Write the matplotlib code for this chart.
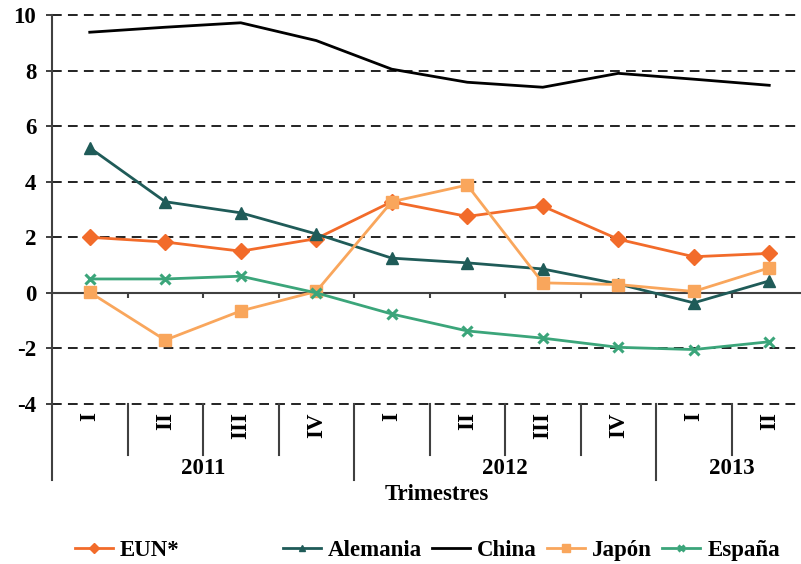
import matplotlib
matplotlib.use("Agg")
import matplotlib.pyplot as plt
import numpy as np

plt.rcParams['font.family'] = ['Liberation Serif', 'DejaVu Serif']
plt.rcParams['font.weight'] = 'bold'

quarters = ["I", "II", "III", "IV", "I", "II", "III", "IV", "I", "II"]
years = ["2011", "2012", "2013"]
quarters_per_year = [4, 4, 2]

eun = [2.0, 1.83, 1.5, 1.95, 3.28, 2.75, 3.12, 1.93, 1.3, 1.42]
alemania = [5.22, 3.28, 2.88, 2.12, 1.25, 1.08, 0.86, 0.32, -0.36, 0.43]
china = [9.38, 9.56, 9.72, 9.08, 8.05, 7.58, 7.4, 7.9, 7.69, 7.47]
japon = [0.02, -1.7, -0.65, 0.05, 3.28, 3.88, 0.36, 0.3, 0.05, 0.9]
espana = [0.5, 0.5, 0.6, 0.0, -0.76, -1.37, -1.63, -1.96, -2.04, -1.76]

C_EUN = "#F26B2A"
C_ALE = "#1F5B58"
C_CHI = "#000000"
C_JAP = "#F9A65C"
C_ESP = "#3BA57A"

FS = 16.5

W, H = 801, 564
fig = plt.figure(figsize=(W / 100, H / 100), dpi=100)
left_px, right_px, top_px, bot_px = 52, 807, 15, 404
ax = fig.add_axes([left_px / W, 1 - bot_px / H, (right_px - left_px) / W, (bot_px - top_px) / H])

n = len(quarters)
x = np.arange(n) + 0.5
ax.set_xlim(0, n)
ax.set_ylim(-4, 10)

# dashed horizontal gridlines (the zero line is drawn solid below)
for yv in [10, 8, 6, 4, 2, -2, -4]:
    ax.axhline(yv, color="#222222", lw=1.4, ls=(0, (5, 3.2)), zorder=1, clip_on=False)
ax.axhline(0, color="#404040", lw=1.5, zorder=1)
ax.vlines(np.arange(1, n), -0.18, 0, color="#404040", lw=1.5, zorder=1)

lw = 2.0
ax.plot(x, eun, color=C_EUN, lw=lw, marker="D", ms=8.5, zorder=3, label="EUN*")
ax.plot(x, alemania, color=C_ALE, lw=lw, marker="^", ms=8, zorder=3, label="Alemania")
ax.plot(x, china, color=C_CHI, lw=lw, zorder=3, label="China")
ax.plot(x, japon, color=C_JAP, lw=lw, marker="s", ms=8.5, zorder=3, label="Japón")
ax.plot(x, espana, color=C_ESP, lw=lw, marker="x", ms=7.5, mew=2.2, zorder=3, label="España")

for s in ["top", "right", "bottom", "left"]:
    ax.spines[s].set_visible(False)

ax.set_yticks([10, 8, 6, 4, 2, 0, -2, -4])
ax.set_yticklabels(["10", "8", "6", "4", "2", "0", "-2", "-4"])
ax.tick_params(axis="y", length=4.3, width=1.4, color="#404040", pad=7, labelsize=FS)

# quarter labels
ax.set_xticks(x)
ax.set_xticklabels(quarters, rotation=90, fontsize=FS)
ax.tick_params(axis="x", length=0, pad=6)

trans = ax.get_xaxis_transform()
ax_h = bot_px - top_px
y_inner = -(455 - bot_px) / ax_h
y_outer = -(480 - bot_px) / ax_h
y_year = -(469 - bot_px) / ax_h

# left axis line extended down through the category labels
ax.plot([0, 0], [1, y_outer], color="#404040", lw=1.5, transform=trans, clip_on=False)

edges = np.concatenate([[0], np.cumsum(quarters_per_year)])
for b in range(1, n + 1):
    if b in edges:
        ax.plot([b, b], [0, y_outer], color="#404040", lw=1.5, transform=trans, clip_on=False)
    else:
        ax.plot([b, b], [0, y_inner], color="#404040", lw=1.5, transform=trans, clip_on=False)

for i, yr in enumerate(years):
    xc = (edges[i] + edges[i + 1]) / 2
    ax.text(xc, y_year, yr, transform=trans, ha="center", va="center", fontsize=FS)

fig.text(437 / W, 1 - 495 / H, "Trimestres", ha="center", va="center", fontsize=FS)

handles, labels = ax.get_legend_handles_labels()
leg_y = 1 - 550 / H
common = dict(frameon=False, fontsize=FS, handlelength=1.66, handletextpad=0.3,
              borderpad=0, borderaxespad=0, markerscale=0.6, loc="center left")
leg1 = fig.legend(handles[:1], labels[:1], bbox_to_anchor=(75 / W, leg_y), **common)
leg2 = fig.legend(handles[1:], labels[1:], ncol=4, columnspacing=0.45,
                  bbox_to_anchor=(283 / W, leg_y), **common)

fig.savefig("out.png", dpi=100)
